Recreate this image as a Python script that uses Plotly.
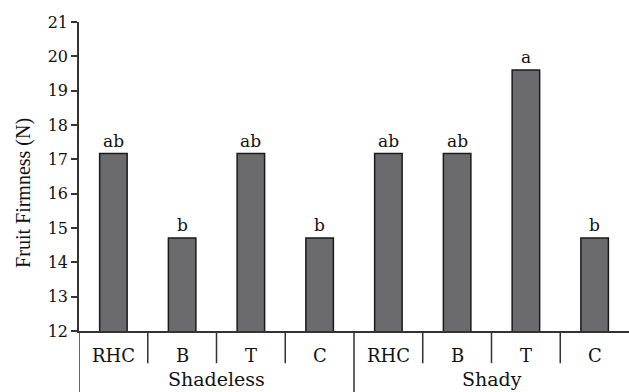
import plotly.graph_objects as go

# Fruit firmness by treatment under two light conditions
groups = ["Shadeless", "Shady"]
treatments = ["RHC", "B", "T", "C"]
firmness = [17.17, 14.71, 17.17, 14.71, 17.17, 17.17, 19.6, 14.71]
letters = ["ab", "b", "ab", "b", "ab", "ab", "a", "b"]
y_ticks = [12, 13, 14, 15, 16, 17, 18, 19, 20, 21]

n_cat = len(groups) * len(treatments)
x_pos = [i + 0.5 for i in range(n_cat)]
tick_text = treatments * len(groups)

AX = "#333333"
TXT = "#111111"
SERIF = "DejaVu Serif"

fig = go.Figure()
fig.add_trace(go.Bar(
    x=x_pos, y=firmness, base=0, width=0.4,
    marker=dict(color="#6b6b6e", line=dict(color="#1a1a1a", width=1.5)),
    showlegend=False, hoverinfo="skip",
))

# significance letters above each bar
for xv, yv, lab in zip(x_pos, firmness, letters):
    fig.add_annotation(x=xv, y=yv, text=lab, showarrow=False,
                       yanchor="bottom", yshift=1,
                       font=dict(family=SERIF, size=17, color=TXT))

shapes = []
# separators between treatments; longer ones between light groups
for b in range(1, n_cat):
    long_line = b % len(treatments) == 0
    shapes.append(dict(type="line", xref="x", yref="paper", x0=b, x1=b,
                       y0=0, y1=-0.2 if long_line else -0.104,
                       line=dict(color=AX, width=1.5)))
# y-axis line extended below the category row
shapes.append(dict(type="line", xref="x", yref="paper", x0=0, x1=0,
                   y0=0, y1=-0.2, line=dict(color=AX, width=1.5)))

# treatment labels
for xv, t in zip(x_pos, tick_text):
    fig.add_annotation(x=xv, y=-0.078, xref="x", yref="paper", text=t,
                       showarrow=False, yanchor="middle",
                       font=dict(family=SERIF, size=18, color=TXT))
# group labels
for gi, g in enumerate(groups):
    fig.add_annotation(x=gi * len(treatments) + len(treatments) / 2, y=-0.197,
                       xref="x", yref="paper", text=g, showarrow=False,
                       yanchor="bottom",
                       font=dict(family=SERIF, size=19, color=TXT))

# y-axis title
fig.add_annotation(x=-0.1, y=0.447, xref="paper", yref="paper",
                   text="Fruit Firmness (N)", textangle=-90, showarrow=False,
                   xanchor="center", yanchor="middle",
                   font=dict(family="Liberation Serif", size=20, color=TXT))

fig.update_layout(
    width=629, height=392,
    margin=dict(l=79, r=0, t=22, b=61),
    paper_bgcolor="white", plot_bgcolor="white",
    shapes=shapes,
    xaxis=dict(range=[0, n_cat], showticklabels=False, ticks="",
               showgrid=False, zeroline=False, showline=True,
               linecolor=AX, linewidth=1.5),
    yaxis=dict(range=[12, 21], tickvals=y_ticks, ticks="outside", ticklen=6,
               tickwidth=1.5, tickcolor=AX, showgrid=False, zeroline=False,
               showline=True, linecolor=AX, linewidth=1.5,
               tickfont=dict(family=SERIF, size=16, color=TXT)),
)

fig.write_html("out.html")
